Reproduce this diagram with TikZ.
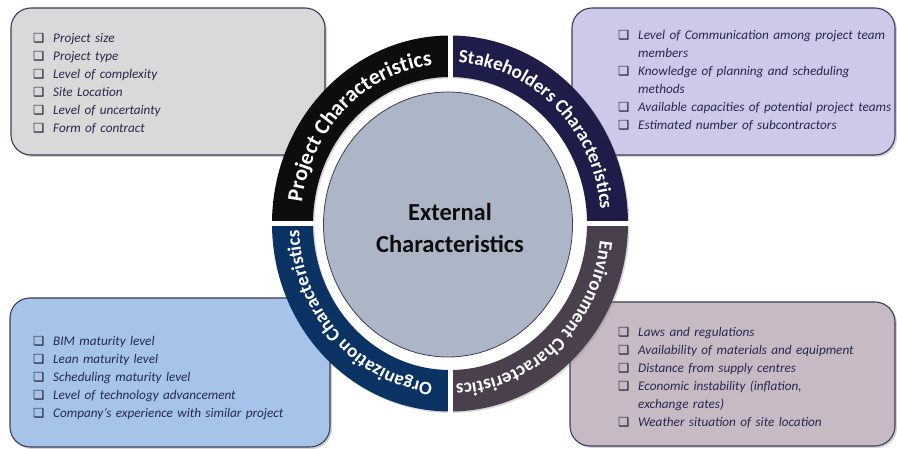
\documentclass[tikz,border=0pt]{standalone}
\usepackage{fontspec}
\setmainfont{Carlito}
\newfontfamily\symfont{DejaVu Sans}
\usetikzlibrary{calc,decorations.text,shadows}
\definecolor{projcol}{HTML}{0D0D0D}
\definecolor{stakecol}{HTML}{1E1C48}
\definecolor{orgcol}{HTML}{0A3263}
\definecolor{envcol}{HTML}{4A3F4C}
\definecolor{corecol}{HTML}{ADB6C7}
\definecolor{greybox}{HTML}{D9D9D9}
\definecolor{lavbox}{HTML}{CCCAE8}
\definecolor{bluebox}{HTML}{A6C4EA}
\definecolor{mauvebox}{HTML}{C7BAC5}
\definecolor{edgecol}{HTML}{3C3C5A}
\definecolor{itemcol}{HTML}{28284F}
\definecolor{chkcol}{HTML}{14142E}
\newcommand{\chk}{{\symfont\fontsize{12.5}{12.5}\selectfont\color{chkcol}❑}}
\newcommand{\itm}[1]{\hangindent=20pt\hangafter=1\noindent\makebox[20pt][l]{\chk}#1\par}
\tikzset{
  infobox/.style={draw=edgecol, line width=1.1pt, rounded corners=20pt,
    drop shadow={opacity=0.35, shadow xshift=2pt, shadow yshift=-2pt}},
  itemlist/.style={anchor=base west, inner sep=0pt, text width=300pt, text=itemcol,
    font=\fontsize{13.2}{18}\selectfont\itshape, align=left},
  ringtext/.style={decorate, decoration={text along path, text color=white, text align=center,
    text={|\fontsize{19}{19}\selectfont\bfseries|#1}}},
  bigringtext/.style={decorate, decoration={text along path, text color=white, text align=center,
    text={|\fontsize{22}{22}\selectfont\bfseries|#1}}},
}
\begin{document}
\begin{tikzpicture}[x=1pt, y=1pt]
\useasboundingbox (0,0) rectangle (897,449);
%boxes
\draw[infobox, fill=greybox] (11,294) rectangle (325,441);
\draw[infobox, fill=lavbox] (572,294) rectangle (895,441);
\draw[infobox, fill=bluebox] (10,2) rectangle (330,151);
\draw[infobox, fill=mauvebox] (570,3) rectangle (895,147);
%item lists
\node[itemlist] (projlist) at (33,406.7) {\itm{Project size}\itm{Project type}\itm{Level of complexity}\itm{Site Location}\itm{Level of uncertainty}\itm{Form of contract}};
\node[itemlist] (stakelist) at (618,409) {\itm{Level of Communication among project team\newline members}\itm{Knowledge of planning and scheduling\newline methods}\itm{Available capacities of potential project teams}\itm{Estimated number of subcontractors}};
\node[itemlist] (orglist) at (33,103) {\itm{BIM maturity level}\itm{Lean maturity level}\itm{Scheduling maturity level}\itm{Level of technology advancement}\itm{Company’s experience with similar project}};
\node[itemlist] (envlist) at (618,112) {\itm{Laws and regulations}\itm{Availability of materials and equipment}\itm{Distance from supply centres}\itm{Economic instability (inflation,\newline exchange rates)}\itm{Weather situation of site location}};
%ring
\coordinate (c) at (450,225.5);
\foreach \a/\col [evaluate=\a as \b using \a+90] in {90/projcol, 0/stakecol, 270/envcol, 180/orgcol}
  \fill[\col, drop shadow={opacity=0.3, shadow xshift=1.5pt, shadow yshift=-1.5pt}] (c) ++(\a:178 and 188) arc[start angle=\a, end angle=\b, x radius=178, y radius=188]
    -- ($(c)+(\b:137 and 146.5)$) arc[start angle=\b, end angle=\a, x radius=137, y radius=146.5] -- cycle;
\draw[white, line width=5pt] (c) ++(0,195) -- ++(0,-390);
\draw[white, line width=5pt] (c) ++(-185,0) -- ++(370,0);
%ring labels
\path[bigringtext=Project Characteristics] (c) ++(172:149.5 and 159.5) arc[start angle=172, end angle=97, x radius=149.5, y radius=159.5];
\path[ringtext=Stakeholders Characteristics] (c) ++(89:151 and 161) arc[start angle=89, end angle=3, x radius=151, y radius=161];
\path[ringtext=Environment Characteristics] (c) ++(-3:151 and 161) arc[start angle=-3, end angle=-91, x radius=151, y radius=161];
\path[ringtext=Organization Characteristics] (c) ++(266:151 and 161) arc[start angle=266, end angle=180, x radius=151, y radius=161];
%core
\draw[fill=corecol, draw=edgecol, line width=0.8pt] (448,224.5) ellipse [x radius=124.5, y radius=132.5];
\node[font=\fontsize{24.5}{31}\selectfont\bfseries, align=center, text=projcol] (core) at (450,221) {External\\Characteristics};
\end{tikzpicture}
\end{document}
